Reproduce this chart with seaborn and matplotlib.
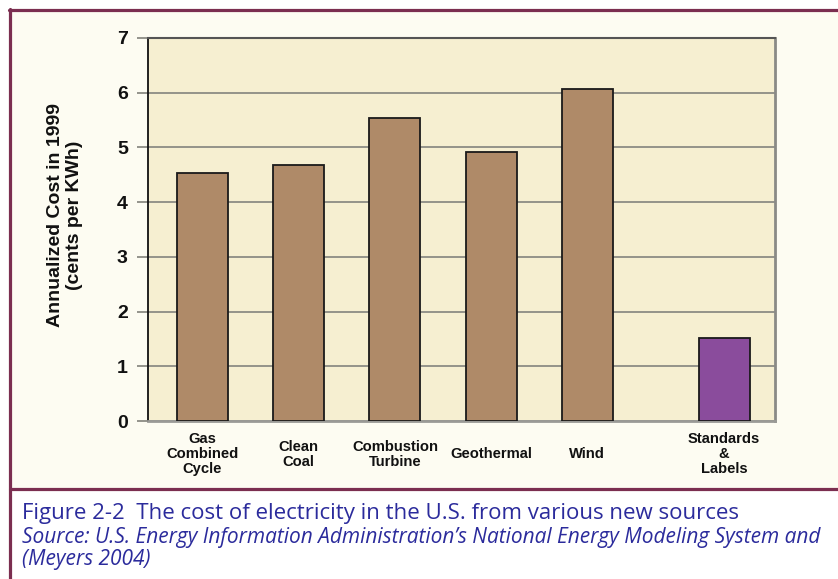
import matplotlib
matplotlib.use("Agg")
import matplotlib.pyplot as plt
import seaborn as sns
import numpy as np
import pandas as pd
from matplotlib.patches import Rectangle
from matplotlib.lines import Line2D

# Annualized cost (cents per kWh, 1999) of new electricity sources
sources = ["Gas\nCombined\nCycle", "Clean\nCoal", "Combustion\nTurbine",
           "Geothermal", "Wind", "Standards\n&\nLabels"]
cost_cents = [4.53, 4.67, 5.53, 4.92, 6.07, 1.51]
bar_colors = ["#AF8A68", "#AF8A68", "#AF8A68", "#AF8A68", "#AF8A68", "#8A4C9C"]
y_ticks = [0, 1, 2, 3, 4, 5, 6, 7]

caption_title = "Figure 2-2  The cost of electricity in the U.S. from various new sources"
caption_source = ["Source: U.S. Energy Information Administration\u2019s National Energy Modeling System and",
                  "(Meyers 2004)"]

# supply options sit in evenly spaced slots; the efficiency option is set apart
slot = np.array([0.0, 1.0, 2.0, 3.0, 4.0, 5.42])

sns.set_theme(style="white")
plt.rcParams["font.family"] = ["Liberation Sans", "DejaVu Sans"]

W, H = 838, 579
fig = plt.figure(figsize=(W / 100, H / 100), dpi=100)
fig.patch.set_facecolor("white")

def fx(px):
    return px / W

def fy(py):
    return 1 - py / H

# cream panel behind the chart
fig.patches.append(Rectangle((fx(10), fy(489)), 1 - fx(10), fy(10) - fy(489),
                             transform=fig.transFigure, facecolor="#FDFCF2",
                             edgecolor="none", zorder=-5))

ax = fig.add_axes([fx(148), fy(421), fx(775) - fx(148), fy(38) - fy(421)])
ax.set_zorder(2)
ax.set_facecolor("#F6EFD1")

df = pd.DataFrame({"slot": slot, "cost": cost_cents, "source": sources})
sns.barplot(data=df, x="slot", y="cost", hue="source",
            palette=dict(zip(sources, bar_colors)), native_scale=True,
            dodge=False, width=0.53, saturation=1, edgecolor="#1a1a1a",
            linewidth=1.3, legend=False, ax=ax, zorder=3)

ax.set_xlim(-0.566, 5.95)
ax.set_ylim(0, 7)
ax.set_yticks(y_ticks)
ax.set_yticklabels([str(t) for t in y_ticks], fontsize=14, fontweight="bold", color="#111111")
ax.set_xticks(slot)
ax.set_xticklabels(sources, fontsize=10.6, fontweight="bold", color="#111111",
                   linespacing=1.1)
for lab in ax.get_xticklabels():
    lab.set_verticalalignment("center")
ax.tick_params(axis="x", length=0, pad=24)
ax.tick_params(axis="y", left=True, length=8, width=1.3, color="#8c8c84", pad=6.5)

ax.yaxis.grid(True, color="#8c8c84", linewidth=1.3, zorder=1)
ax.set_axisbelow(True)
ax.set_xlabel("")
ax.set_ylabel("Annualized Cost in 1999\n(cents per KWh)", fontsize=14,
              fontweight="bold", color="#111111", linespacing=1.15)
ax.yaxis.set_label_coords((83 - 148) / (775 - 148), 0.538)

ax.spines["left"].set_color("#111111")
ax.spines["left"].set_linewidth(1.3)
ax.spines["top"].set_color("#555555")
ax.spines["top"].set_linewidth(1.5)
ax.spines["right"].set_color("#8a8a86")
ax.spines["right"].set_linewidth(2)
ax.spines["bottom"].set_color("#9a9a96")
ax.spines["bottom"].set_linewidth(2)

# maroon frame lines
frame = "#7B2E50"
for xs, ys in [((9, W), (10, 10)), ((10, 10), (9, H)), ((10, W), (489, 489))]:
    fig.add_artist(Line2D([fx(x) for x in xs], [fy(y) for y in ys],
                          transform=fig.transFigure, color=frame, linewidth=2.3))

cap_font = ["Open Sans", "DejaVu Sans"]
fig.text(fx(22), fy(513), caption_title, color="#2B2B9C", fontsize=16,
         family=cap_font, va="center", ha="left")
for line, py in zip(caption_source, [537, 560]):
    fig.text(fx(22), fy(py), line, color="#2B2B9C", fontsize=15,
             family=cap_font, style="italic", va="center", ha="left")

fig.savefig("out.png", dpi=100, facecolor=fig.get_facecolor())
